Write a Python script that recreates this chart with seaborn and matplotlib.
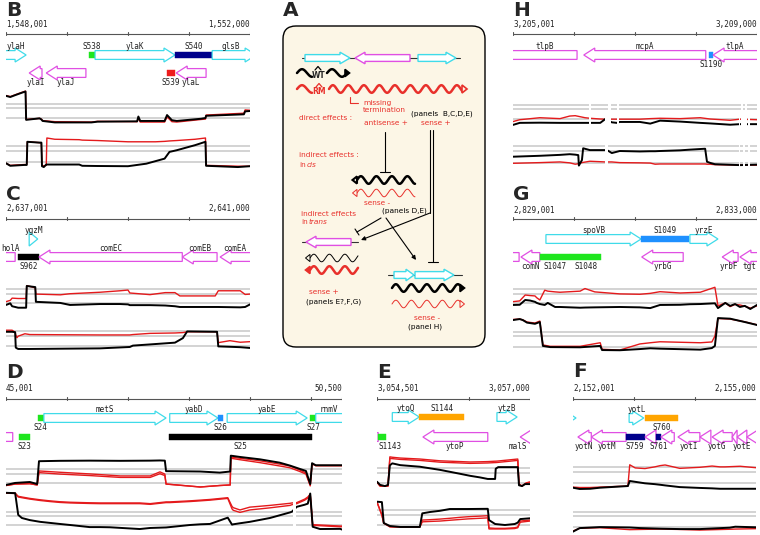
import numpy as np
import pandas as pd
import matplotlib
matplotlib.use("Agg")
import matplotlib.pyplot as plt
from matplotlib.patches import Polygon, FancyBboxPatch
import seaborn as sns

sns.set_theme(style="white")
plt.rcParams["font.family"] = ["DejaVu Sans"]

# ===================== DATA =====================
# positions are kb offsets from the window start; signal in arbitrary log units
# ---- Panel B ----
B_start, B_end = 1548001, 1552000
B_ticks = [0, 1, 2, 3, 4]
B_name = ["ylaH", "S538", "ylaK", "S540", "glsB", "ylaI", "ylaJ", "S539", "ylaL"]
B_fs = [-0.2, 1.36, 1.46, 2.77, 3.38, 0.38, 0.66, 2.64, 2.79]
B_fe = [0.33, 1.46, 2.77, 3.38, 4.1, 0.59, 1.31, 2.77, 3.28]
B_kind = ["+", "green", "+", "navy", "+", "-", "-", "red", "-"]
B_row = [1, 1, 1, 1, 1, 2, 2, 2, 2]
B_lab = ["a", "a", "a", "a", "a", "b", "b", "b", "b"]
B_labx = [None] * 9
B_t1_x = [0, 0.07, 0.15, 0.25, 0.32, 0.33, 0.55, 0.58, 0.6, 0.8, 1.4, 1.5, 2.15, 2.17, 2.2, 2.6, 2.64, 2.72, 2.8, 3.2, 3.27, 3.28, 3.9, 3.92, 4.0]
B_t1_black = [8.0, 7.7, 8.2, 8.8, 9.2, 1.5, 1.9, 1.6, 1.2, 0.8, 0.8, 1.0, 1.1, 2.4, 1.2, 1.2, 2.8, 1.4, 1.2, 1.8, 2.0, 2.6, 3.0, 3.8, 3.9]
B_t1_red = [8.1, 7.8, 8.3, 8.9, 9.3, 1.6, 1.9, 1.7, 1.3, 1.0, 0.9, 1.1, 1.0, 2.0, 0.9, 0.9, 2.3, 1.0, 0.9, 1.6, 1.7, 2.8, 3.3, 4.2, 4.1]
B_t2_x = [0, 0.07, 0.3, 0.34, 0.35, 0.55, 0.58, 0.59, 0.62, 0.66, 0.67, 0.8, 1.2, 1.25, 1.5, 2.0, 2.3, 2.45, 2.6, 2.68, 2.8, 2.9, 3.1, 3.27, 3.28, 3.8, 4.0]
B_t2_black = [1.7, 1.1, 1.3, 1.3, 6.8, 6.6, 6.6, 1.0, 0.8, 1.4, 1.4, 1.4, 1.4, 1.1, 1.05, 1.0, 1.6, 2.2, 2.8, 4.4, 4.8, 5.2, 6.0, 6.8, 1.1, 0.8, 1.0]
B_t2_red = [1.7, 1.2, 1.4, 1.4, 6.8, 6.6, 6.6, 1.2, 1.1, 1.2, 7.7, 7.4, 7.3, 7.2, 7.1, 6.8, 6.8, 6.8, 6.9, 7.0, 7.1, 7.2, 7.4, 7.7, 1.2, 1.0, 1.0]

# ---- Panel C ----
C_start, C_end = 2637001, 2641000
C_ticks = [0, 1, 2, 3, 4]
C_name = ["ygzM", "holA", "S962", "comEC", "comEB", "comEA"]
C_fs = [0.38, -0.3, 0.2, 0.54, 2.89, 3.51]
C_fe = [0.52, 0.15, 0.54, 2.89, 3.46, 4.1]
C_kind = ["+", "-", "black", "-", "-", "-"]
C_row = [1, 2, 2, 2, 2, 2]
C_lab = ["a", "a", "b", "a", "a", "a"]
C_labx = [None, 0.07, None, None, None, None]
C_t1_x = [0, 0.07, 0.1, 0.2, 0.33, 0.34, 0.48, 0.49, 0.89, 1.05, 1.54, 1.87, 2.0, 2.03, 2.36, 2.61, 2.77, 2.85, 3.43, 3.48, 3.84, 3.92, 4.0]
C_t1_black = [1.55, 2.0, 1.2, 0.8, 0.8, 6.7, 6.4, 2.4, 2.1, 1.55, 1.8, 1.8, 1.7, 1.5, 1.5, 1.4, 1.2, 1.0, 1.0, 1.0, 0.9, 1.0, 1.7]
C_t1_red = [2.45, 2.8, 3.4, 3.3, 3.3, 6.8, 6.2, 4.5, 4.3, 4.6, 5.0, 5.4, 5.6, 4.8, 4.35, 4.9, 4.9, 4.0, 4.0, 5.4, 5.4, 4.4, 4.5]
C_t2_x = [0, 0.1, 0.15, 0.16, 0.18, 0.2, 0.31, 0.39, 1.54, 2.03, 2.08, 2.36, 2.77, 2.9, 2.97, 3.46, 3.48, 3.67, 3.84, 4.0]
C_t2_black = [5.6, 5.6, 5.5, 1.6, 1.4, 1.25, 1.25, 1.25, 1.4, 1.75, 2.1, 2.4, 2.85, 4.0, 5.7, 5.6, 1.9, 1.8, 1.7, 1.5]
C_t2_red = [6.0, 6.0, 5.5, 4.8, 4.1, 4.5, 5.1, 4.9, 4.8, 4.8, 4.9, 5.2, 5.3, 5.4, 5.6, 5.6, 2.85, 3.35, 2.95, 3.1]

# ---- Panel D ----
D_start, D_end = 45001, 50500
D_ticks = [0, 1, 2, 3, 4, 5, 5.5]
D_name = ["S24", "metS", "yabD", "S26", "yabE", "S27", "rnmV", "", "S23", "S25"]
D_fs = [0.52, 0.62, 2.68, 3.47, 3.62, 4.98, 5.07, -0.3, 0.21, 2.67]
D_fe = [0.62, 2.62, 3.47, 3.55, 4.93, 5.07, 5.7, 0.11, 0.39, 5.01]
D_kind = ["green", "+", "+", "blue", "+", "green", "+", "-", "green", "black"]
D_row = [1, 1, 1, 1, 1, 1, 1, 2, 2, 2]
D_lab = ["b", "a", "a", "b", "a", "b", "a", "b", "b", "b"]
D_labx = [None] * 10
D_t1_x = [0, 0.15, 0.39, 0.51, 0.54, 0.88, 1.37, 1.87, 2.36, 2.52, 2.6, 2.62, 3.18, 3.5, 3.67, 3.68, 3.83, 4.16, 4.48, 4.65, 4.81, 4.91, 4.98, 5.01, 5.07, 5.5]
D_t1_black = [1.55, 2.1, 2.35, 1.8, 8.0, 8.1, 8.15, 8.1, 8.15, 8.2, 8.15, 5.3, 5.2, 4.9, 5.2, 9.5, 9.15, 8.5, 7.6, 6.8, 5.9, 5.35, 1.8, 7.45, 6.9, 6.9]
D_t1_red = [1.4, 1.8, 1.9, 1.55, 5.35, 5.0, 4.55, 4.0, 4.0, 5.1, 4.5, 1.8, 1.0, 1.4, 1.55, 9.1, 8.8, 8.1, 7.2, 6.7, 5.6, 4.8, 1.55, 7.3, 6.8, 6.8]
D_t1_red2 = [1.4, 1.8, 1.9, 1.55, 4.9, 4.5, 4.1, 3.6, 3.6, 4.6, 4.1, 1.8, 1.0, 1.4, 1.55, 8.8, 8.4, 7.6, 6.7, 6.2, 5.2, 4.5, 1.3, 7.3, 6.8, 6.8]
D_t2_x = [0, 0.15, 0.2, 0.26, 0.39, 0.56, 0.72, 0.88, 1.05, 1.37, 1.54, 1.7, 2.19, 2.36, 2.62, 2.68, 3.01, 3.18, 3.34, 3.63, 3.7, 3.72, 3.83, 3.99, 4.32, 4.65, 4.68, 4.76, 4.89, 4.94, 4.98, 5.02, 5.14, 5.47, 5.5]
D_t2_black = [11.2, 11.1, 4.9, 4.0, 3.4, 2.9, 2.6, 2.3, 2.0, 1.4, 1.4, 1.35, 0.85, 1.15, 1.3, 1.4, 2.0, 2.2, 2.3, 4.1, 2.1, 2.2, 2.5, 2.9, 4.0, 5.6, 5.8, 7.2, 7.8, 8.1, 11.0, 1.5, 0.85, 0.9, 0.7]
D_t2_red = [11.1, 11.1, 10.2, 10.0, 9.6, 9.2, 8.9, 8.65, 8.5, 8.35, 8.3, 8.3, 8.3, 8.1, 8.6, 8.6, 8.9, 9.1, 9.3, 9.8, 7.3, 6.95, 6.3, 7.1, 7.6, 8.2, 8.3, 8.4, 9.4, 10.0, 10.8, 2.1, 2.0, 1.7, 1.7]
D_t2_red2 = [11.1, 11.0, 10.0, 9.8, 9.4, 9.0, 8.7, 8.45, 8.3, 8.15, 8.1, 8.1, 8.1, 7.9, 8.4, 8.4, 8.7, 8.9, 9.1, 9.6, 6.6, 6.2, 5.6, 6.3, 6.9, 7.6, 7.8, 8.1, 9.1, 9.7, 10.6, 1.9, 1.8, 1.5, 1.5]
D_t2_gaps = [(4.70, 4.75)]

# ---- Panel E ----
E_start, E_end = 3054501, 3057000
E_ticks = [0, 1.5, 2.5]
E_name = ["ytoQ", "S1144", "ytzB", "", "S1143", "ytoP", "malS"]
E_fs = [0.25, 0.69, 1.96, -0.3, 0.02, 0.75, 2.34]
E_fe = [0.69, 1.42, 2.29, 0.02, 0.15, 1.81, 2.6]
E_kind = ["+", "orange", "+", "-", "green", "-", "-"]
E_row = [1, 1, 1, 2, 2, 2, 2]
E_lab = ["a", "a", "a", "b", "b", "b", "b"]
E_labx = [None, None, None, None, 0.21, None, 2.3]
E_t1_x = [0, 0.05, 0.13, 0.18, 0.21, 0.25, 0.38, 0.7, 1.03, 1.36, 1.52, 1.68, 1.81, 1.93, 1.94, 1.98, 2.01, 2.3, 2.32, 2.37, 2.42, 2.45, 2.5]
E_t1_black = [2.4, 1.6, 1.3, 1.6, 6.55, 7.05, 6.6, 6.2, 5.4, 4.4, 3.9, 3.5, 3.1, 3.1, 5.7, 6.1, 6.1, 6.1, 1.5, 1.3, 1.8, 1.8, 1.8]
E_t1_red = [2.3, 1.3, 1.3, 1.3, 8.7, 8.6, 8.4, 8.15, 7.7, 7.5, 7.4, 7.45, 7.5, 7.6, 7.6, 7.65, 7.7, 8.15, 1.8, 1.3, 1.9, 2.15, 2.3]
E_t1_red2 = [2.3, 1.3, 1.3, 1.3, 8.3, 8.25, 8.05, 7.8, 7.35, 7.15, 7.05, 7.1, 7.15, 7.25, 7.25, 7.3, 7.35, 7.8, 1.8, 1.3, 1.9, 2.15, 2.3]
E_t2_x = [0, 0.08, 0.11, 0.21, 0.38, 0.7, 0.74, 0.87, 1.03, 1.19, 1.36, 1.49, 1.81, 1.83, 1.93, 2.09, 2.25, 2.3, 2.34, 2.5]
E_t2_black = [7.9, 7.8, 2.5, 1.75, 1.5, 1.5, 4.95, 5.3, 5.6, 6.05, 6.05, 6.05, 6.1, 3.25, 2.25, 2.0, 2.25, 2.6, 3.5, 3.7]
E_t2_red = [7.8, 4.5, 2.5, 1.55, 1.5, 1.5, 3.25, 3.35, 3.5, 3.7, 3.95, 4.1, 4.35, 1.25, 1.15, 1.15, 1.3, 1.5, 3.0, 3.25]
E_t2_red2 = [7.8, 4.5, 2.5, 1.55, 1.5, 1.5, 2.8, 2.9, 3.0, 3.2, 3.4, 3.55, 3.8, 1.0, 1.0, 1.0, 1.1, 1.3, 2.7, 3.0]

# ---- Panel F ----
F_start, F_end = 2152001, 2155000
F_ticks = [0, 1, 2, 3]
F_name = ["", "yotL", "S760", "yotN", "yotM", "S759", "", "S761", "", "yotI", "", "yotG", "", "yotE", ""]
F_fs = [-0.5, 0.92, 1.18, 0.08, 0.3, 0.87, 1.18, 1.36, 1.44, 1.72, 2.08, 2.28, 2.61, 2.69, 2.85]
F_fe = [0.05, 1.16, 1.72, 0.3, 0.87, 1.18, 1.36, 1.44, 1.66, 2.08, 2.26, 2.61, 2.69, 2.85, 3.05]
F_kind = ["+", "+", "orange", "-", "-", "navy", "-", "navy", "-", "-", "-", "-", "-", "-", "-"]
F_row = [1, 1, 1, 2, 2, 2, 2, 2, 2, 2, 2, 2, 2, 2, 2]
F_lab = ["a", "a", "b", "b", "b", "b", "b", "b", "b", "b", "b", "b", "b", "b", "b"]
F_labx = [None, None, None, 0.18, 0.56, 1.02, None, 1.4, None, None, None, 2.36, None, 2.76, None]
F_t1_x = [0, 0.11, 0.28, 0.44, 0.9, 0.93, 1.02, 1.18, 1.34, 1.43, 1.51, 1.75, 2.08, 2.28, 2.41, 2.49, 2.74, 3.0]
F_t1_black = [0.95, 0.65, 0.7, 0.95, 1.35, 2.55, 2.35, 2.0, 1.8, 1.65, 1.5, 1.1, 0.9, 0.8, 0.7, 0.7, 0.7, 0.7]
F_t1_red = [1.1, 1.0, 1.0, 1.1, 1.35, 6.4, 5.65, 5.5, 5.9, 6.2, 6.35, 5.55, 5.8, 6.1, 5.9, 5.9, 6.05, 5.7]
F_t2_x = [0, 0.11, 0.44, 0.93, 1.1, 1.43, 1.75, 2.08, 2.57, 2.66, 3.0]
F_t2_black = [0.75, 1.65, 1.9, 1.8, 1.65, 1.5, 1.4, 1.4, 1.75, 2.0, 1.85]
F_t2_red = [0.9, 1.6, 1.75, 1.25, 1.3, 1.4, 1.3, 1.15, 1.35, 1.4, 1.5]

# ---- Panel G ----
G_start, G_end = 2829001, 2833000
G_ticks = [0, 1, 2, 3, 4]
G_name = ["spoVB", "S1049", "yrzE", "", "comN", "S1047", "S1048", "yrbG", "yrbF", "tgt"]
G_fs = [0.54, 2.1, 2.9, -0.3, 0.13, 0.44, 0.93, 2.11, 3.43, 3.72]
G_fe = [2.1, 2.89, 3.36, 0.1, 0.44, 0.93, 1.44, 2.79, 3.69, 4.1]
G_kind = ["+", "blue", "+", "-", "-", "green", "green", "-", "-", "-"]
G_row = [1, 1, 1, 2, 2, 2, 2, 2, 2, 2]
G_lab = ["a", "a", "a", "b", "b", "b", "b", "b", "b", "b"]
G_labx = [None, None, None, None, 0.29, 0.69, 1.2, None, 3.54, 3.88]
G_t1_x = [0, 0.11, 0.2, 0.28, 0.36, 0.39, 0.44, 0.52, 0.57, 0.69, 0.77, 1.1, 1.18, 1.34, 1.75, 2.08, 2.25, 2.41, 2.74, 2.9, 3.07, 3.31, 3.36, 3.48, 3.56, 3.64, 3.72, 3.8, 3.89, 4.0]
G_t1_black = [1.55, 1.6, 2.9, 2.75, 2.4, 2.1, 1.8, 1.55, 2.1, 1.0, 1.0, 0.8, 0.85, 0.9, 1.0, 0.9, 0.7, 1.55, 1.6, 1.75, 1.8, 2.0, 0.7, 2.1, 1.3, 1.8, 1.0, 1.3, 0.45, 1.55]
G_t1_red = [2.45, 2.65, 4.25, 4.1, 4.0, 3.5, 2.9, 5.55, 5.3, 5.1, 5.0, 5.3, 6.0, 5.1, 4.55, 4.45, 4.7, 5.15, 4.8, 4.9, 5.0, 6.35, 1.3, 2.1, 1.1, 1.7, 1.55, 1.2, 0.7, 1.3]
G_t2_x = [0, 0.11, 0.16, 0.23, 0.36, 0.44, 0.49, 0.61, 1.1, 1.43, 1.46, 1.75, 2.08, 2.25, 2.41, 3.07, 3.26, 3.31, 3.36, 3.56, 3.8, 4.0]
G_t2_black = [8.75, 9.0, 8.75, 8.1, 7.8, 8.25, 2.2, 1.9, 1.85, 2.2, 1.15, 1.1, 1.4, 1.6, 1.5, 1.25, 1.65, 2.2, 9.25, 9.1, 8.25, 7.5]
G_t2_red = [8.9, 9.0, 8.8, 8.25, 8.0, 8.5, 2.45, 2.1, 2.1, 3.0, 1.35, 1.15, 2.7, 3.0, 3.25, 3.0, 3.2, 4.7, 9.15, 9.0, 8.3, 7.55]

# ---- Panel H ----
H_start, H_end = 3205001, 3209000
H_ticks = [0, 1, 2, 3, 4]
H_name = ["tlpB", "mcpA", "S1190", "tlpA"]
H_fs = [-0.4, 1.16, 3.21, 3.28]
H_fe = [1.05, 3.16, 3.28, 4.2]
H_kind = ["-", "-", "blue", "-"]
H_row = [1, 1, 1, 1]
H_lab = ["a", "a", "b", "a"]
H_labx = [None, None, None, None]
H_t1_x = [0, 0.11, 0.44, 0.77, 0.93, 1.02, 1.18, 1.26, 1.43, 1.51, 1.54, 1.62, 1.7, 1.75, 2.08, 2.25, 2.41, 2.74, 3.07, 3.23, 3.56, 3.72, 4.0]
H_t1_black = [0.4, 0.95, 1.0, 0.95, 0.95, 0.95, 0.95, 0.95, 0.95, 1.95, 1.75, 1.1, 0.95, 1.2, 1.2, 0.75, 1.55, 1.3, 0.95, 0.8, 0.45, 0.6, 0.6]
H_t1_red = [1.3, 1.8, 2.35, 2.1, 2.8, 2.9, 2.35, 2.2, 2.0, 1.95, 1.95, 1.95, 1.95, 1.95, 1.95, 2.1, 2.2, 2.1, 2.35, 2.0, 1.65, 1.95, 1.8]
H_t2_x = [0, 0.44, 0.77, 0.93, 1.02, 1.07, 1.08, 1.13, 1.15, 1.26, 1.43, 1.51, 1.56, 1.62, 1.75, 2.08, 2.25, 2.33, 2.41, 2.74, 2.9, 3.15, 3.18, 3.23, 3.31, 3.72, 4.0]
H_t2_black = [3.45, 3.65, 3.85, 4.0, 3.9, 3.8, 1.5, 2.7, 5.3, 4.9, 4.9, 4.9, 4.75, 4.25, 4.7, 4.6, 4.65, 4.65, 4.7, 4.85, 5.0, 5.2, 2.35, 2.1, 1.8, 1.6, 1.7]
H_t2_red = [2.0, 2.15, 2.3, 2.1, 1.8, 1.9, 2.0, 2.15, 2.2, 2.45, 2.35, 2.3, 2.3, 2.3, 2.15, 2.1, 2.05, 1.8, 1.85, 1.85, 1.85, 1.85, 1.8, 1.8, 1.7, 1.6, 1.6]
H_t1_gaps = [(1.25, 1.28), (1.56, 1.61), (1.70, 1.74), (3.74, 3.77), (3.80, 3.84)]
H_t2_gaps = [(1.51, 1.56), (3.70, 3.72), (3.77, 3.80), (3.85, 3.88)]

GRAY_LEVELS = [2.0, 4.65, 5.8]

# ===================== STYLE / LAYOUT =====================
W, H = 760, 535
fig = plt.figure(figsize=(W / 100, H / 100), dpi=100)
fig.patch.set_facecolor("white")

COL = {"+": "#3fdbe9", "-": "#e04fe3", "green": "#1ee61e", "navy": "#00008b",
       "red": "#ee1c1c", "orange": "#ffa500", "blue": "#1e90ff", "black": "#000000"}
TRACK_RED = "#e41a1c"
MONO = "DejaVu Sans Mono"
LAB_FS = 5.5


def px_axes(x0, y0, x1, y1):
    ax = fig.add_axes([x0 / W, 1 - y1 / H, (x1 - x0) / W, (y1 - y0) / H])
    ax.set_axis_off()
    return ax


def fmt(n):
    return f"{n:,}"


def draw_line(ax, x, y, color, lw):
    df = pd.DataFrame({"pos": x, "signal": y})
    sns.lineplot(data=df, x="pos", y="signal", color=color, linewidth=lw,
                 estimator=None, sort=False, ax=ax, legend=False)


def draw_panel(letter, start, end, ticks, names, fs, fe, kinds, rows, labs, labx,
               tracks, L):
    x0, x1 = L["x0"], L["x1"]
    span = (end - start + 1) / 1000.0
    ppk = (x1 - x0) / span
    top = L["letter_y"] - 12
    bot = L["row2"] + 17
    ax = px_axes(x0, top, x1, bot)
    ax.set_xlim(0, span)
    ax.set_ylim(bot, top)
    ax.text(0, L["letter_y"], letter, fontsize=14.5, fontweight="bold", ha="left",
            va="center", clip_on=False)
    ax.text(0, L["coord_y"], fmt(start), fontsize=LAB_FS, family=MONO, ha="left",
            va="center", color="#222222")
    ax.text(span, L["coord_y"], fmt(end), fontsize=LAB_FS, family=MONO, ha="right",
            va="center", color="#222222")
    ry = L["ruler_y"]
    ax.plot([0, span], [ry, ry], color="#555555", lw=0.8)
    for t in ticks:
        ax.plot([t, t], [ry - 1.8, ry + 1.2], color="#555555", lw=0.8)
    hl = 11 / ppk
    bh, hh, fh = 4.4, 7.0, 2.8
    for n, s, e, k, r, lp, lx in zip(names, fs, fe, kinds, rows, labs, labx):
        y = L["row1"] if r == 1 else L["row2"]
        c = COL[k]
        if k in ("+", "-"):
            h = min(hl, e - s)
            if k == "+":
                if h >= e - s:
                    pts = [(s, y - hh), (e, y), (s, y + hh)]
                else:
                    pts = [(s, y - bh), (e - h, y - bh), (e - h, y - hh), (e, y),
                           (e - h, y + hh), (e - h, y + bh), (s, y + bh)]
            else:
                if h >= e - s:
                    pts = [(e, y - hh), (s, y), (e, y + hh)]
                else:
                    pts = [(e, y - bh), (s + h, y - bh), (s + h, y - hh), (s, y),
                           (s + h, y + hh), (s + h, y + bh), (e, y + bh)]
            ax.add_patch(Polygon(pts, closed=True, fc="white", ec=c, lw=0.9))
        else:
            pts = [(s, y - fh), (e, y - fh), (e, y + fh), (s, y + fh)]
            ax.add_patch(Polygon(pts, closed=True, fc=c, ec=c, lw=0.3))
        if n:
            cx = lx if lx is not None else (max(s, 0) + min(e, span)) / 2
            ly = y - 8.8 if lp == "a" else y + 9.8
            ax.text(cx, ly, n, fontsize=LAB_FS, family=MONO, ha="center", va="center",
                    color="#222222", clip_on=False)

    for key in ("t1", "t2"):
        g_low, g_high = L[key]
        ppu = (g_low - g_high) / 3.8
        ytop = g_low - 10 * ppu
        ybot = g_low + 4 * ppu
        tax = px_axes(x0, ytop, x1, ybot)
        tax.set_xlim(0, span)
        tax.set_ylim(-2, 12)
        for gl in GRAY_LEVELS:
            tax.axhline(gl, color="#c8c8c8", lw=1.1, zorder=0)
        tr = tracks[key]
        for rr in tr.get("reds", []):
            draw_line(tax, tr["x"], rr, TRACK_RED, 1.0)
        draw_line(tax, tr["x"], tr["black"], "black", 1.4)
        for (a, b) in tr.get("gaps", []):
            tax.axvspan(a, b, color="white", zorder=10, lw=0)
        tax.set_axis_off()


LAYOUT = {
    "B": dict(x0=6, x1=250, letter_y=10, coord_y=24, ruler_y=34, row1=55, row2=73, t1=(118, 104), t2=(162, 146)),
    "C": dict(x0=6, x1=250, letter_y=195, coord_y=209, ruler_y=219, row1=239, row2=257, t1=(303.3, 289.3), t2=(346, 331)),
    "D": dict(x0=6, x1=342, letter_y=373, coord_y=389, ruler_y=399, row1=418, row2=437, t1=(483.3, 469.3), t2=(525, 511.7)),
    "E": dict(x0=377, x1=530, letter_y=373, coord_y=389, ruler_y=399, row1=417, row2=437, t1=(483.3, 468.3), t2=(525, 510)),
    "F": dict(x0=573, x1=756, letter_y=372, coord_y=389, ruler_y=399, row1=418, row2=437, t1=(483.3, 467.3), t2=(526.7, 511.7)),
    "G": dict(x0=513, x1=757, letter_y=195, coord_y=210, ruler_y=219, row1=239, row2=257, t1=(303.3, 289.3), t2=(346.7, 331.7)),
    "H": dict(x0=513, x1=757, letter_y=10, coord_y=25, ruler_y=34, row1=55, row2=64, t1=(119, 105), t2=(163.3, 146)),
}

draw_panel("B", B_start, B_end, B_ticks, B_name, B_fs, B_fe, B_kind, B_row, B_lab, B_labx,
           {"t1": dict(x=B_t1_x, black=B_t1_black, reds=[B_t1_red]),
            "t2": dict(x=B_t2_x, black=B_t2_black, reds=[B_t2_red])}, LAYOUT["B"])
draw_panel("C", C_start, C_end, C_ticks, C_name, C_fs, C_fe, C_kind, C_row, C_lab, C_labx,
           {"t1": dict(x=C_t1_x, black=C_t1_black, reds=[C_t1_red]),
            "t2": dict(x=C_t2_x, black=C_t2_black, reds=[C_t2_red])}, LAYOUT["C"])
draw_panel("D", D_start, D_end, D_ticks, D_name, D_fs, D_fe, D_kind, D_row, D_lab, D_labx,
           {"t1": dict(x=D_t1_x, black=D_t1_black, reds=[D_t1_red, D_t1_red2]),
            "t2": dict(x=D_t2_x, black=D_t2_black, reds=[D_t2_red, D_t2_red2], gaps=D_t2_gaps)}, LAYOUT["D"])
draw_panel("E", E_start, E_end, E_ticks, E_name, E_fs, E_fe, E_kind, E_row, E_lab, E_labx,
           {"t1": dict(x=E_t1_x, black=E_t1_black, reds=[E_t1_red, E_t1_red2]),
            "t2": dict(x=E_t2_x, black=E_t2_black, reds=[E_t2_red, E_t2_red2])}, LAYOUT["E"])
draw_panel("F", F_start, F_end, F_ticks, F_name, F_fs, F_fe, F_kind, F_row, F_lab, F_labx,
           {"t1": dict(x=F_t1_x, black=F_t1_black, reds=[F_t1_red]),
            "t2": dict(x=F_t2_x, black=F_t2_black, reds=[F_t2_red])}, LAYOUT["F"])
draw_panel("G", G_start, G_end, G_ticks, G_name, G_fs, G_fe, G_kind, G_row, G_lab, G_labx,
           {"t1": dict(x=G_t1_x, black=G_t1_black, reds=[G_t1_red]),
            "t2": dict(x=G_t2_x, black=G_t2_black, reds=[G_t2_red])}, LAYOUT["G"])
draw_panel("H", H_start, H_end, H_ticks, H_name, H_fs, H_fe, H_kind, H_row, H_lab, H_labx,
           {"t1": dict(x=H_t1_x, black=H_t1_black, reds=[H_t1_red], gaps=H_t1_gaps),
            "t2": dict(x=H_t2_x, black=H_t2_black, reds=[H_t2_red], gaps=H_t2_gaps)}, LAYOUT["H"])

# ===================== PANEL A (schematic) =====================
RED_T = "#e8302b"
axA = px_axes(278, 0, 492, 360)
axA.set_xlim(278, 492)
axA.set_ylim(360, 0)
axA.text(283, 11, "A", fontsize=14.5, fontweight="bold", ha="left", va="center")
axA.add_patch(FancyBboxPatch((283, 26), 202, 321, boxstyle="round,pad=0,rounding_size=13",
                             fc="#fcf6e6", ec="black", lw=1.0))


def a_arrow(s, e, y, strand, color, hl=10, bh=3.4, hh=5.8):
    if strand == "+":
        pts = [(s, y - bh), (e - hl, y - bh), (e - hl, y - hh), (e, y), (e - hl, y + hh), (e - hl, y + bh), (s, y + bh)]
    else:
        pts = [(e, y - bh), (s + hl, y - bh), (s + hl, y - hh), (s, y), (s + hl, y + hh), (s + hl, y + bh), (e, y + bh)]
    axA.add_patch(Polygon(pts, closed=True, fc="white", ec=color, lw=1.0, zorder=3))


def a_wave(x0, x1, y, color, lw, amp=3.8, wl=15.5):
    xs = np.linspace(x0, x1, 300)
    axA.plot(xs, y - amp * np.sin(2 * np.pi * (xs - x0) / wl), color=color, lw=lw,
             solid_capstyle="round")


def a_tri(x, y, direction, color, filled, size=5.0, lw=1.2):
    if direction == "r":
        pts = [(x, y - size * 0.8), (x + size, y), (x, y + size * 0.8)]
    else:
        pts = [(x, y - size * 0.8), (x - size, y), (x, y + size * 0.8)]
    axA.add_patch(Polygon(pts, closed=True, fc=color if filled else "#fcf6e6", ec=color, lw=lw, zorder=4))


def a_hat(x, y, color):
    axA.plot([x - 3, x, x + 3], [y + 2, y - 1.5, y + 2], color=color, lw=0.9)


# top gene map
axA.plot([302, 460], [58, 58], color="#333333", lw=0.8)
a_arrow(305, 350, 58, "+", COL["+"])
a_arrow(355, 410, 58, "-", COL["-"])
a_arrow(418, 456, 58, "+", COL["+"])
# WT transcripts
a_wave(297, 312, 73, "black", 1.8, wl=20)
axA.text(319, 75, "WT", fontsize=5.5, fontweight="bold", ha="center", va="center")
a_hat(318, 68, "black")
a_wave(327, 345, 73, "black", 1.8, wl=20)
a_tri(345, 73, "r", "black", True, size=4.5)
# RM transcripts
a_wave(297, 312, 89, RED_T, 1.8, wl=20)
axA.text(319, 91, "RM", fontsize=5.5, fontweight="bold", ha="center", va="center", color=RED_T)
a_hat(319, 85, RED_T)
a_wave(329, 462, 89, RED_T, 1.8)
a_tri(462, 89, "r", RED_T, False, size=5)
axA.plot([350, 350, 358], [97, 103, 103], color=RED_T, lw=0.8)

fsA = 5.3
axA.text(363, 103, "missing", fontsize=fsA, color=RED_T, va="center", ha="left")
axA.text(363, 110, "termination", fontsize=fsA, color=RED_T, va="center", ha="left")
axA.text(299, 118, "direct effects :", fontsize=fsA, color=RED_T, va="center", ha="left")
axA.text(411, 114, "(panels  B,C,D,E)", fontsize=fsA, color="black", va="center", ha="left")
axA.text(364, 123, "antisense +", fontsize=fsA, color=RED_T, va="center", ha="left")
axA.text(421, 123, "sense +", fontsize=fsA, color=RED_T, va="center", ha="left")
axA.text(299, 155, "indirect effects :", fontsize=fsA, color=RED_T, va="center", ha="left")
axA.text(299, 165, "in", fontsize=fsA, color=RED_T, va="center", ha="left")
axA.text(307, 165, "cis", fontsize=fsA, color=RED_T, va="center", ha="left", style="italic")

# connectors
axA.plot([385, 385], [132, 172], color="black", lw=0.8)
axA.plot([380, 390], [172, 172], color="black", lw=0.8)
axA.plot([430, 430], [130, 213], color="black", lw=0.8)
axA.plot([433, 433], [130, 262], color="black", lw=0.8)
axA.plot([428, 438], [262, 262], color="black", lw=0.8)
axA.annotate("", xy=(361, 240), xytext=(430, 213),
             arrowprops=dict(arrowstyle="-|>", lw=0.8, color="black", mutation_scale=6, shrinkA=0, shrinkB=0))
axA.plot([381, 357], [218, 232], color="black", lw=0.8)
axA.plot([355, 359], [229, 235], color="black", lw=0.8)
axA.annotate("", xy=(416, 260), xytext=(386, 218),
             arrowprops=dict(arrowstyle="-|>", lw=0.8, color="black", mutation_scale=6, shrinkA=0, shrinkB=0))

# cis effect
a_wave(357, 415, 180, "black", 1.8)
a_tri(357, 180, "l", "black", False, size=4.5, lw=1.5)
a_wave(357, 415, 193, RED_T, 0.7)
a_tri(357, 193, "l", RED_T, False, size=4.5, lw=0.7)
axA.text(377, 203, "sense -", fontsize=fsA, color=RED_T, va="center", ha="center")
axA.text(382, 211, "(panels D,E)", fontsize=fsA, color="black", va="center", ha="left")

# trans effect
axA.text(301, 214, "indirect effects", fontsize=fsA, color=RED_T, va="center", ha="left")
axA.text(301, 222, "in", fontsize=fsA, color=RED_T, va="center", ha="left")
axA.text(309, 222, "trans", fontsize=fsA, color=RED_T, va="center", ha="left", style="italic")
axA.plot([302, 358], [242, 242], color="#333333", lw=0.8)
a_arrow(306, 351, 242, "-", COL["-"])
a_wave(310, 358, 258, "black", 0.7)
a_tri(310, 258, "l", "black", False, size=4.5, lw=0.7)
a_wave(310, 358, 270, RED_T, 1.8)
a_tri(310, 270, "l", RED_T, True, size=4.5, lw=1.2)
axA.text(309, 292, "sense +", fontsize=fsA, color=RED_T, va="center", ha="left")
axA.text(306, 302, "(panels E?,F,G)", fontsize=fsA, color="black", va="center", ha="left")

# panel H mechanism
axA.plot([388, 462], [275, 275], color="#333333", lw=0.8)
a_arrow(394, 414, 275, "+", COL["+"], hl=8)
a_arrow(415, 454, 275, "+", COL["+"])
a_wave(392, 460, 288, "black", 1.8)
a_tri(460, 288, "r", "black", True, size=4.5)
a_wave(392, 460, 304, RED_T, 0.7)
a_tri(460, 304, "r", RED_T, False, size=4.5, lw=0.7)
axA.text(427, 318, "sense -", fontsize=fsA, color=RED_T, va="center", ha="center")
axA.text(425, 327, "(panel H)", fontsize=fsA, color="black", va="center", ha="center")

fig.savefig("out.png", dpi=100, facecolor="white")
